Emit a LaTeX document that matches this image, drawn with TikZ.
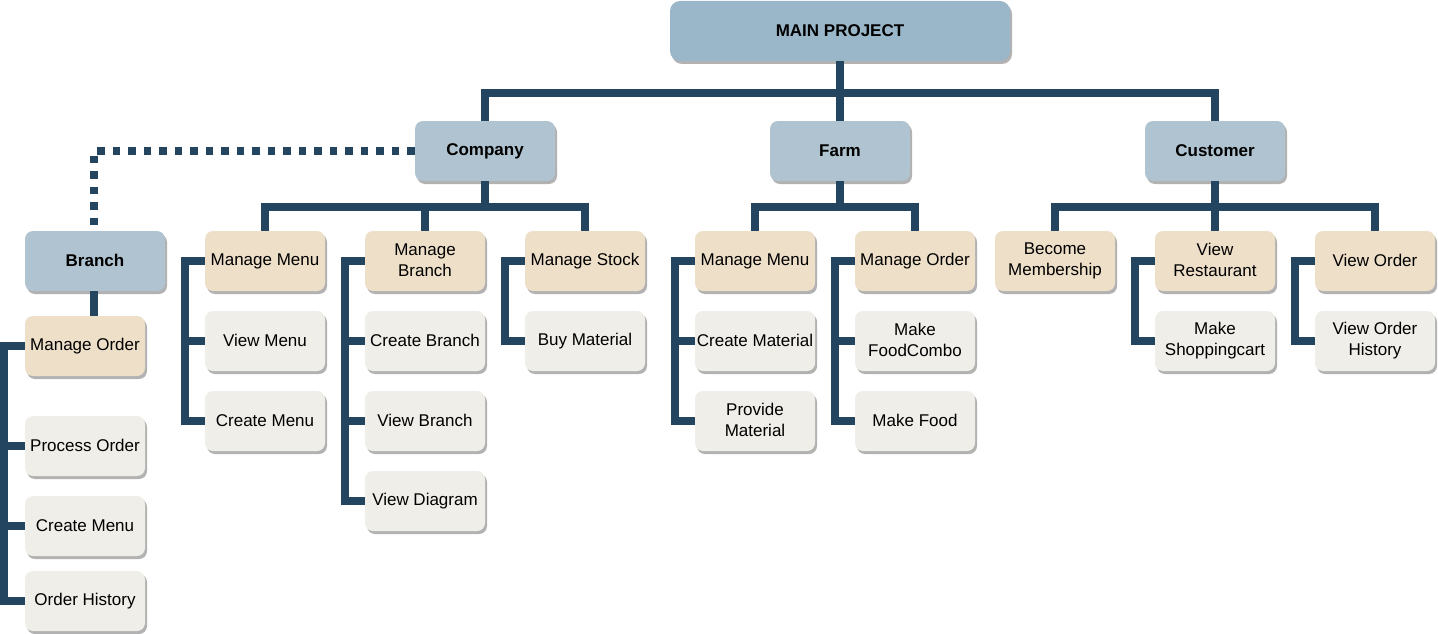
\documentclass[tikz,border=0pt]{standalone}
\usepackage{fontspec}
\setmainfont{Liberation Sans}
\usetikzlibrary{shadows}
\definecolor{conncol}{HTML}{244560}
\definecolor{topcol}{HTML}{9AB7C9}
\definecolor{lvltwo}{HTML}{AFC4D0}
\definecolor{tancol}{HTML}{EEDFC8}
\definecolor{leafcol}{HTML}{EFEEE8}
\tikzset{
  basebox/.style={rounded corners=8pt, minimum height=60pt, align=center, inner sep=2pt,
    font=\fontsize{17}{21}\selectfont,
    execute at begin node={\rule{0pt}{13pt}},
    execute at end node={\rule[-1.5pt]{0pt}{1.5pt}},
    drop shadow={shadow xshift=2pt, shadow yshift=-3pt, fill=black!30, opacity=1}},
  topbox/.style={basebox, fill=topcol, minimum width=340pt, rounded corners=10pt, font=\fontsize{17}{21}\selectfont\bfseries},
  catbox/.style={basebox, fill=lvltwo, minimum width=140pt, font=\fontsize{17}{21}\selectfont\bfseries},
  midbox/.style={basebox, fill=tancol, minimum width=120pt},
  leafbox/.style={basebox, fill=leafcol, minimum width=120pt},
  conn/.style={draw=conncol, line width=7.5pt, line join=miter},
  dotconn/.style={draw=conncol, line width=7.5pt, dash pattern=on 7.5pt off 8pt}
}
\begin{document}
\begin{tikzpicture}[x=1pt,y=-1pt]
\useasboundingbox (0,0) rectangle (1438,634);
% top
\node[topbox] (main) at (840,31) {MAIN PROJECT};
\node[catbox] (company) at (485,151) {Company};
\node[catbox] (farm) at (840,151) {Farm};
\node[catbox] (customer) at (1215,151) {Customer};
\node[catbox] (branch) at (95,261) {Branch};
% branch group
\node[midbox] (bmo) at (85,346) {Manage Order};
\node[leafbox] (bpo) at (85,446) {Process Order};
\node[leafbox] (bcm) at (85,526) {Create Menu};
\node[leafbox] (boh) at (85,601) {Order History};
% company group
\node[midbox] (cmm) at (265,261) {Manage Menu};
\node[leafbox] (cvm) at (265,341) {View Menu};
\node[leafbox] (ccm) at (265,421) {Create Menu};
\node[midbox] (cmb) at (425,261) {Manage\\Branch};
\node[leafbox] (ccb) at (425,341) {Create Branch};
\node[leafbox] (cvb) at (425,421) {View Branch};
\node[leafbox] (cvd) at (425,501) {View Diagram};
\node[midbox] (cms) at (585,261) {Manage Stock};
\node[leafbox] (cbm) at (585,341) {Buy Material};
% farm group
\node[midbox] (fmm) at (755,261) {Manage Menu};
\node[leafbox] (fcm) at (755,341) {Create Material};
\node[leafbox] (fpm) at (755,421) {Provide\\Material};
\node[midbox] (fmo) at (915,261) {Manage Order};
\node[leafbox] (fmf) at (915,341) {Make\\FoodCombo};
\node[leafbox] (fmk) at (915,421) {Make Food};
% customer group
\node[midbox] (ubm) at (1055,261) {Become\\Membership};
\node[midbox] (uvr) at (1215,261) {View\\Restaurant};
\node[leafbox] (ums) at (1215,341) {Make\\Shoppingcart};
\node[midbox] (uvo) at (1375,261) {View Order};
\node[leafbox] (uvh) at (1375,341) {View Order\\History};

% connectors level 1
\coordinate (h1) at (840,93);
\draw[conn] (main.south) -- (h1);
\draw[conn] (company.north) |- (h1) -| (customer.north);
\draw[conn] (farm.north) -- (h1);
% company children
\coordinate (h2) at (485,207);
\draw[conn] (company.south) -- (h2);
\draw[conn] (cmm.north) |- (h2) -| (cms.north);
\draw[conn] (cmb.north) -- (cmb.north |- h2);
% farm children
\coordinate (h3) at (840,207);
\draw[conn] (farm.south) -- (h3);
\draw[conn] (fmm.north) |- (h3) -| (fmo.north);
% customer children
\coordinate (h4) at (1215,207);
\draw[conn] (customer.south) -- (h4);
\draw[conn] (ubm.north) |- (h4) -| (uvo.north);
\draw[conn] (uvr.north) -- (h4);
% dotted to branch
\coordinate (d1) at (94,151);
\draw[dotconn] (company.west) -- (d1) -- (branch.north -| d1);
% branch
\draw[conn] ([xshift=-1pt]branch.south) -- ([xshift=-1pt]branch.south |- bmo.north);
\draw[conn] (bmo.west) -- ++(-21,0) |- (boh.west);
\draw[conn] (bpo.west) -- ++(-21,0);
\draw[conn] (bcm.west) -- ++(-21,0);
% bars
\draw[conn] (cmm.west) -- ++(-20,0) |- (ccm.west);
\draw[conn] (cvm.west) -- ++(-20,0);
\draw[conn] (cmb.west) -- ++(-20,0) |- (cvd.west);
\draw[conn] (ccb.west) -- ++(-20,0);
\draw[conn] (cvb.west) -- ++(-20,0);
\draw[conn] (cms.west) -- ++(-20,0) |- (cbm.west);
\draw[conn] (fmm.west) -- ++(-20,0) |- (fpm.west);
\draw[conn] (fcm.west) -- ++(-20,0);
\draw[conn] (fmo.west) -- ++(-20,0) |- (fmk.west);
\draw[conn] (fmf.west) -- ++(-20,0);
\draw[conn] (uvr.west) -- ++(-20,0) |- (ums.west);
\draw[conn] (uvo.west) -- ++(-20,0) |- (uvh.west);
\end{tikzpicture}
\end{document}
